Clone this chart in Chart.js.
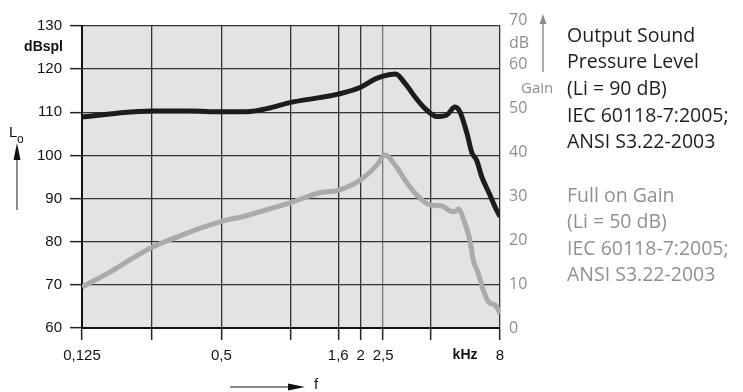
<!DOCTYPE html>
<html>
<head>
<meta charset="utf-8">
<script src="https://cdn.jsdelivr.net/npm/chart.js@4.4.1/dist/chart.umd.min.js"></script>
<style>
  body { margin: 0; background: #fff; }
  canvas { display: block; }
</style>
</head>
<body>
<canvas id="myChart" width="743" height="392"></canvas>
<script>
// Output sound pressure level (Li = 90 dB), left axis, dB SPL
var splFreq  = [0.125, 0.177, 0.25, 0.366, 0.5, 0.665, 0.81, 1.0, 1.33, 1.6, 2.0, 2.31, 2.5, 2.83, 3.11, 3.43, 3.79, 4.27, 4.72, 5.11, 5.37, 5.76, 6.05, 6.34, 6.67, 7.24, 7.61, 8];
var splLevel = [108.9, 109.8, 110.3, 110.3, 110.1, 110.2, 111.0, 112.3, 113.4, 114.2, 115.8, 117.7, 118.4, 118.9, 116.7, 113.6, 110.9, 109.0, 109.4, 111.2, 110.1, 105.1, 100.6, 98.9, 95.1, 90.8, 88.1, 85.8];

// Full on gain (Li = 50 dB), right axis, dB
var gainFreq  = [0.125, 0.171, 0.201, 0.251, 0.331, 0.425, 0.545, 0.602, 0.735, 0.99, 1.33, 1.58, 1.99, 2.35, 2.55, 2.82, 3.11, 3.49, 4.0, 4.48, 4.86, 5.11, 5.28, 5.65, 5.93, 6.13, 6.44, 6.77, 7.12, 7.61, 7.95, 8];
var gainLevel = [9.3, 13.2, 15.5, 18.4, 21.0, 23.1, 24.8, 25.2, 26.5, 28.5, 30.8, 31.3, 33.7, 37.1, 39.4, 37.1, 33.7, 30.3, 28.0, 27.8, 26.7, 26.5, 27.1, 23.8, 20.0, 15.5, 12.5, 8.7, 6.0, 5.2, 3.7, 3.2];

// axes
var freqTicks  = [0.125, 0.25, 0.5, 1, 1.6, 2, 2.5, 4, 5.65, 8];
var freqLabels = ['0,125', '', '0,5', '', '1,6', '2', '2,5', '', 'kHz', '8'];
var splTicks   = [60, 70, 80, 90, 100, 110, 120, 130];
var gainTicks  = [0, 10, 20, 30, 40, 50, 60, 70];

var KHZ = 5.65;

function toPoints(xs, ys) {
    return xs.map(function (x, i) { return { x: x, y: ys[i] }; });
}

var extras = {
    id: 'extras',
    beforeDraw: function (chart) {
        var c = chart.ctx, a = chart.chartArea;
        c.save();
        c.fillStyle = '#e2e3e5';
        c.fillRect(a.left, a.top, a.right - a.left, a.bottom - a.top);
        c.restore();
    },
    afterDraw: function (chart) {
        var c = chart.ctx;
        c.save();
        c.textBaseline = 'middle';

        // left axis unit
        c.fillStyle = '#111';
        c.font = 'bold 14px "Liberation Sans", Arial, sans-serif';
        c.textAlign = 'right';
        c.fillText('dBspl', 63, 47);

        // L_o with arrow
        c.font = '15px "Liberation Sans", Arial, sans-serif';
        c.textAlign = 'left';
        c.fillText('L', 9, 133);
        c.font = '12px "Liberation Sans", Arial, sans-serif';
        c.fillText('o', 17, 140);
        c.strokeStyle = '#666';
        c.lineWidth = 1.5;
        c.beginPath(); c.moveTo(17, 210); c.lineTo(17, 156); c.stroke();
        c.fillStyle = '#111';
        c.beginPath(); c.moveTo(17, 143); c.lineTo(13.5, 160); c.lineTo(20.5, 160); c.closePath(); c.fill();

        // f arrow
        c.strokeStyle = '#666';
        c.beginPath(); c.moveTo(230, 387); c.lineTo(292, 387); c.stroke();
        c.beginPath(); c.moveTo(305, 387); c.lineTo(288, 383.5); c.lineTo(288, 390.5); c.closePath(); c.fill();
        c.font = '15px "Liberation Sans", Arial, sans-serif';
        c.fillText('f', 314, 385);

        // right axis unit + Gain arrow
        c.fillStyle = '#8b8e91';
        c.font = '16px "Open Sans", sans-serif';
        c.fillText('dB', 509, 43);
        c.font = '15px "Open Sans", sans-serif';
        c.fillText('Gain', 521, 89);
        c.strokeStyle = '#8b8e91';
        c.lineWidth = 1.5;
        c.beginPath(); c.moveTo(543, 72); c.lineTo(543, 22); c.stroke();
        c.beginPath(); c.moveTo(543, 14); c.lineTo(539.5, 24); c.lineTo(546.5, 24); c.closePath(); c.fill();

        // legend text
        c.font = '19.5px "Open Sans", sans-serif';
        c.fillStyle = '#1e1e1e';
        ['Output Sound', 'Pressure Level', '(Li = 90 dB)', 'IEC 60118-7:2005;', 'ANSI S3.22-2003'].forEach(function (t, i) {
            c.fillText(t, 567, 36 + i * 26.7);
        });
        c.fillStyle = '#8e9194';
        ['Full on Gain', '(Li = 50 dB)', 'IEC 60118-7:2005;', 'ANSI S3.22-2003'].forEach(function (t, i) {
            c.fillText(t, 567, 196 + i * 26.6);
        });
        c.restore();
    }
};

var ctx = document.getElementById('myChart').getContext('2d');

var myChart = new Chart(ctx, {
    type: 'line',
    data: {
        datasets: [{
            label: 'Output Sound Pressure Level',
            data: toPoints(splFreq, splLevel),
            yAxisID: 'y',
            borderColor: '#1c1c1c',
            borderWidth: 5,
            pointRadius: 0,
            cubicInterpolationMode: 'monotone'
        }, {
            label: 'Full on Gain',
            data: toPoints(gainFreq, gainLevel),
            yAxisID: 'y2',
            borderColor: '#a8aaac',
            borderWidth: 5,
            pointRadius: 0,
            cubicInterpolationMode: 'monotone'
        }]
    },
    options: {
        responsive: false,
        animation: false,
        devicePixelRatio: 1,
        layout: { padding: { top: 26, left: 0, right: 0, bottom: 0 } },
        plugins: {
            legend: { display: false },
            tooltip: { enabled: false }
        },
        scales: {
            x: {
                type: 'logarithmic',
                min: 0.125,
                max: 8,
                afterBuildTicks: function (scale) {
                    scale.ticks = freqTicks.map(function (v) { return { value: v }; });
                },
                afterFit: function (scale) { scale.height = 64; },
                ticks: {
                    autoSkip: false,
                    maxRotation: 0,
                    padding: 7,
                    color: '#111',
                    font: function (c) {
                        var bold = c.tick && c.tick.value === KHZ;
                        return { family: '"Liberation Sans", Arial, sans-serif', size: bold ? 14 : 15, weight: bold ? 'bold' : 'normal' };
                    },
                    callback: function (value, index) { return freqLabels[index]; }
                },
                grid: {
                    color: function (c) {
                        if (c.tick && c.tick.value === KHZ) return 'rgba(0,0,0,0)';
                        if (c.tick && c.tick.value === 2.5) return '#777';
                        return '#333';
                    },
                    tickColor: function (c) {
                        return (c.tick && c.tick.value === KHZ) ? 'rgba(0,0,0,0)' : '#222';
                    },
                    lineWidth: 1.3,
                    tickLength: 12,
                    tickWidth: 1.5
                },
                border: { color: '#111', width: 2 }
            },
            y: {
                position: 'left',
                min: 60,
                max: 130,
                afterBuildTicks: function (scale) {
                    scale.ticks = splTicks.map(function (v) { return { value: v }; });
                },
                afterFit: function (scale) { scale.width = 82; },
                ticks: {
                    autoSkip: false,
                    padding: 8,
                    color: '#111',
                    font: { family: '"Liberation Sans", Arial, sans-serif', size: 15 }
                },
                grid: {
                    color: '#333',
                    lineWidth: 1.3,
                    tickLength: 12,
                    tickColor: '#222',
                    tickWidth: 1.5
                },
                border: { color: '#111', width: 2 }
            },
            y2: {
                position: 'right',
                min: 0,
                max: 68.8,
                afterBuildTicks: function (scale) {
                    scale.ticks = gainTicks.map(function (v) { return { value: v }; });
                },
                afterFit: function (scale) { scale.width = 243; },
                ticks: {
                    autoSkip: false,
                    padding: 9,
                    color: '#8b8e91',
                    font: { family: '"Open Sans", sans-serif', size: 16 }
                },
                grid: { display: false, drawTicks: false },
                border: { display: false }
            }
        }
    },
    plugins: [extras]
});
</script>
</body>
</html>
